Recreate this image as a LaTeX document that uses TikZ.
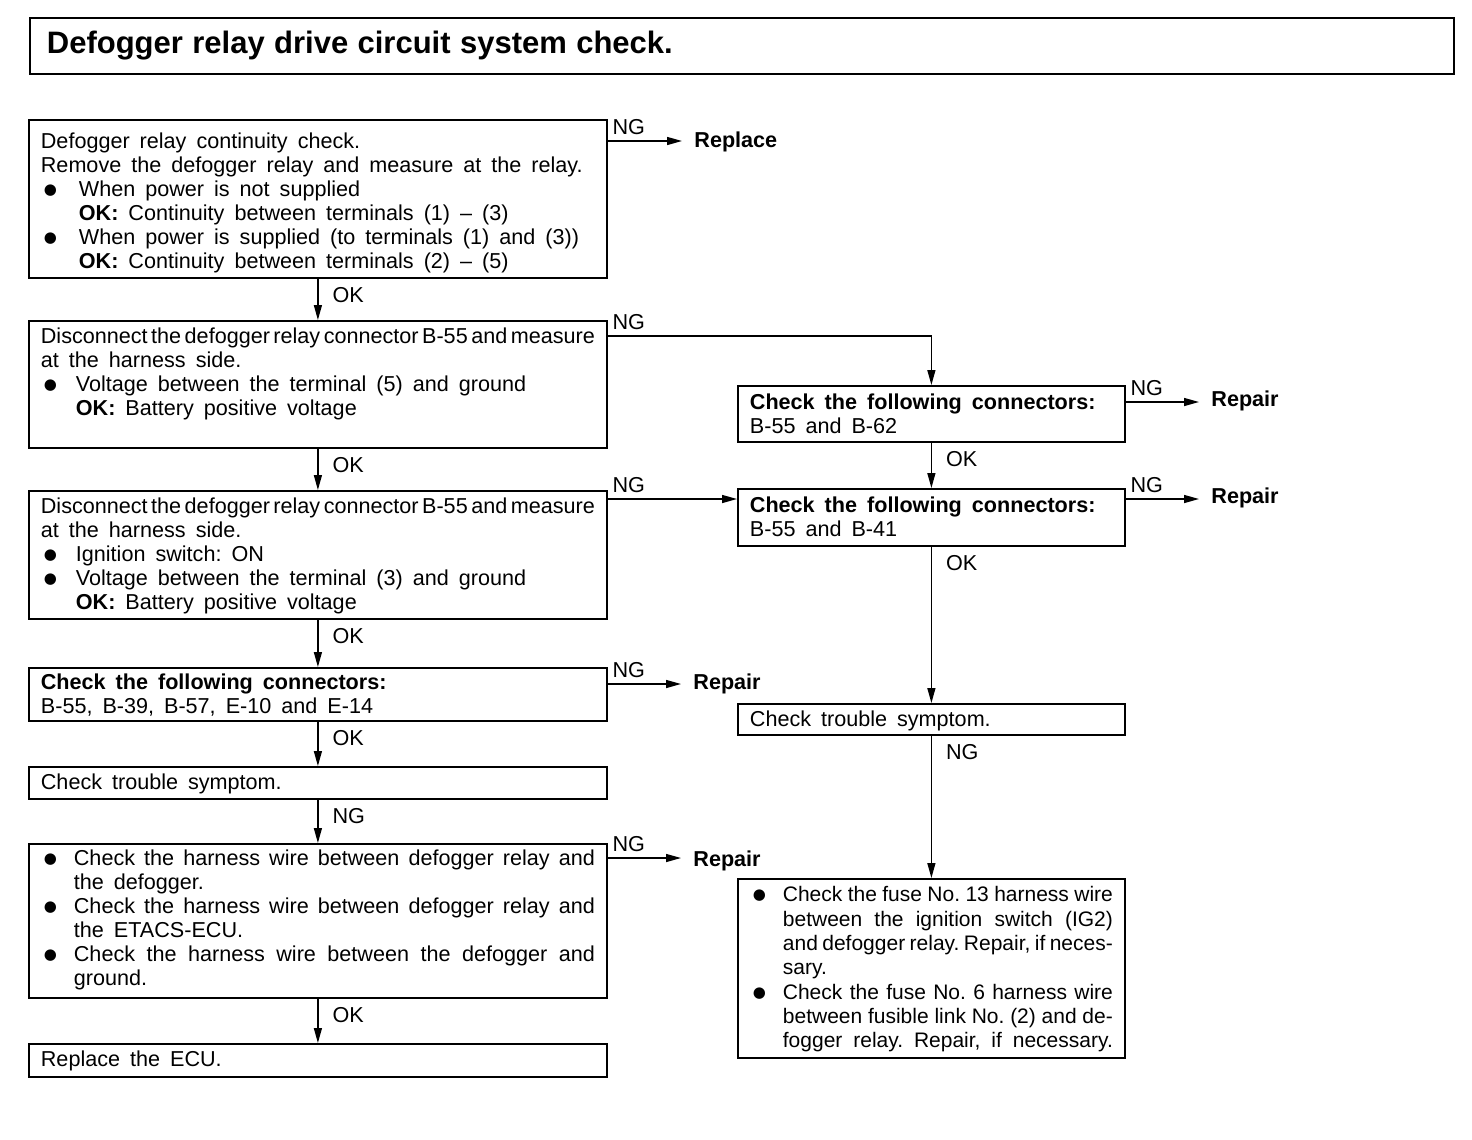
\documentclass[tikz,border=0pt]{standalone}
\usepackage{fontspec}
\setmainfont{Liberation Sans}
\newfontfamily\dotfont{DejaVu Sans}
\usetikzlibrary{arrows.meta,positioning}
\newcommand{\txtfont}{\fontsize{10.8}{12}\selectfont\frenchspacing
  \spaceskip=5pt plus 3pt minus 3.4pt\relax
  \tolerance=9999\hyphenpenalty=10000\exhyphenpenalty=10000}
\newcommand{\ttlfont}{\fontsize{15.5}{18}\selectfont\bfseries}
\newcommand{\dotmark}{\raisebox{1pt}{\dotfont\fontsize{7.5}{8}\selectfont ●}}
\newcommand{\firstbul}[1][19pt]{\hangindent=#1\hangafter=1\noindent
  \makebox[#1][l]{\hspace{1.5pt}\dotmark}\ignorespaces}
\newcommand{\bul}[1][19pt]{\par\firstbul[#1]}

\begin{document}
\begin{tikzpicture}[x=0.5pt, y=-0.5pt,
    chk/.style={draw, line width=0.9pt, anchor=north west, inner xsep=6pt,
      inner ysep=0pt, text width=277pt, align=justify, font=\txtfont},
    side/.style={chk, text width=181.5pt},
    act/.style={anchor=west, inner xsep=6pt, inner ysep=1pt, font=\txtfont\bfseries},
    arr/.style={line width=0.7pt, -{Triangle[length=7.5pt,width=4pt]}},
    hlbl/.style={pos=0, anchor=south west, inner xsep=2pt, inner ysep=3pt, font=\txtfont},
    vlbl/.style={pos=0, anchor=north west, inner sep=2pt, xshift=5pt, yshift=-2pt, font=\txtfont}]
    \useasboundingbox (0,0) rectangle (1472,1140);

    % Title
    \node[draw, line width=0.9pt, anchor=north west, minimum width=712pt,
      minimum height=28pt, text width=695pt, inner xsep=8.5pt, align=left,
      font=\ttlfont] (title) at (29,17)
      {\makebox[313pt][l]{Defogger\hfill relay\hfill drive\hfill circuit\hfill
        system\hfill check.}};

    % Left column
    \node[chk, text height=14.5pt, text depth=64.5pt] (b1) at (28,119) {%
      Defogger relay continuity check.\\
      Remove the defogger relay and measure at the relay.
      \bul When power is not supplied\\
      \textbf{OK:}\hspace{5pt}Continuity between terminals (1) – (3)
      \bul When power is supplied (to terminals (1) and (3))\\
      \textbf{OK:}\hspace{5pt}Continuity between terminals (2) – (5)\par};
    \node[chk, text height=11.5pt, text depth=52pt] (b2) at (28,320) {%
      Disconnect the defogger relay connector B-55 and measure\linebreak
      at the harness side.
      \bul[17.5pt] Voltage between the terminal (5) and ground\\
      \textbf{OK:} Battery positive voltage\par};
    \node[chk, text height=11.5pt, text depth=52.5pt] (b3) at (28,490) {%
      Disconnect the defogger relay connector B-55 and measure\linebreak
      at the harness side.
      \bul[17.5pt] Ignition switch: ON
      \bul[17.5pt] Voltage between the terminal (3) and ground\\
      \textbf{OK:} Battery positive voltage\par};
    \node[chk, text height=11pt, text depth=15.5pt] (b4) at (28,667) {%
      \textbf{Check the following connectors:}\\
      B-55, B-39, B-57, E-10 and E-14};
    \node[chk, text height=11.5pt, text depth=4.5pt] (b5) at (28,766)
      {Check trouble symptom.};
    \node[chk, text height=11pt, text depth=66pt] (b6) at (28,843) {%
      \firstbul[16.5pt] Check the harness wire between defogger relay and\linebreak
      the defogger.
      \bul[16.5pt] Check the harness wire between defogger relay and\linebreak
      the ETACS-ECU.
      \bul[16.5pt] Check the harness wire between the defogger and\linebreak
      ground.\par};
    \node[chk, text height=11.5pt, text depth=5pt] (b7) at (28,1043)
      {Replace the ECU.};

    % Right column
    \node[side, text height=12pt, text depth=16pt] (r1) at (737,385) {%
      \textbf{Check the following connectors:}\\
      B-55 and B-62};
    \node[side, text height=12pt, text depth=16.5pt] (r2) at (737,488) {%
      \textbf{Check the following connectors:}\\
      B-55 and B-41};
    \node[side, text height=11.5pt, text depth=4pt] (r3) at (737,703)
      {Check trouble symptom.};
    \node[side, text height=11.5pt, text depth=78pt,
      font=\txtfont\fontsize{10.5}{12.15}\selectfont] (r4) at (737,878) {%
      \firstbul[16.5pt] Check the fuse No. 13 harness wire\linebreak
      between the ignition switch (IG2)\linebreak
      and defogger relay. Repair, if neces-\linebreak
      sary.
      \bul[16.5pt] Check the fuse No. 6 harness wire\linebreak
      between fusible link No. (2) and de-\linebreak
      fogger relay. Repair, if necessary.{\parfillskip=0pt\par}};

    % Results
    \node[act] (rep1) at (682,142) {Replace};
    \node[act] (rep2) at (681,684) {Repair};
    \node[act] (rep3) at (681,861) {Repair};
    \node[act] (rep4) at (1199,401) {Repair};
    \node[act] (rep5) at (1199,498) {Repair};

    % NG exits
    \coordinate (ng1) at ([yshift=-11pt]b1.north east);
    \coordinate (ng2) at ([yshift=-8pt]b2.north east);
    \coordinate (ng3) at ([yshift=-4.5pt]b3.north east);
    \coordinate (ng4) at ([yshift=-8.5pt]b4.north east);
    \coordinate (ng6) at ([yshift=-7.5pt]b6.north east);
    \coordinate (ngr1) at ([yshift=-8.5pt]r1.north east);
    \coordinate (ngr2) at ([yshift=-5.5pt]r2.north east);

    \draw[arr] (ng1) -- node[hlbl]{NG} (ng1 -| rep1.west);
    \draw[arr] (ng2) -| node[hlbl]{NG} (r1);
    \draw[arr] (ng3) -- node[hlbl]{NG} (ng3 -| r2.west);
    \draw[arr] (ng4) -- node[hlbl]{NG} (ng4 -| rep2.west);
    \draw[arr] (ng6) -- node[hlbl]{NG} (ng6 -| rep3.west);
    \draw[arr] (ngr1) -- node[hlbl]{NG} (ngr1 -| rep4.west);
    \draw[arr] (ngr2) -- node[hlbl]{NG} (ngr2 -| rep5.west);

    % Flow downwards
    \draw[arr] (b1) -- node[vlbl]{OK} (b2);
    \draw[arr] (b2) -- node[vlbl]{OK} (b3);
    \draw[arr] (b3) -- node[vlbl]{OK} (b4);
    \draw[arr] (b4) -- node[vlbl]{OK} (b5);
    \draw[arr] (b5) -- node[vlbl]{NG} (b6);
    \draw[arr] (b6) -- node[vlbl]{OK} (b7);
    \draw[arr] (r1) -- node[vlbl]{OK} (r2);
    \draw[arr] (r2) -- node[vlbl]{OK} (r3);
    \draw[arr] (r3) -- node[vlbl]{NG} (r4);
\end{tikzpicture}
\end{document}
